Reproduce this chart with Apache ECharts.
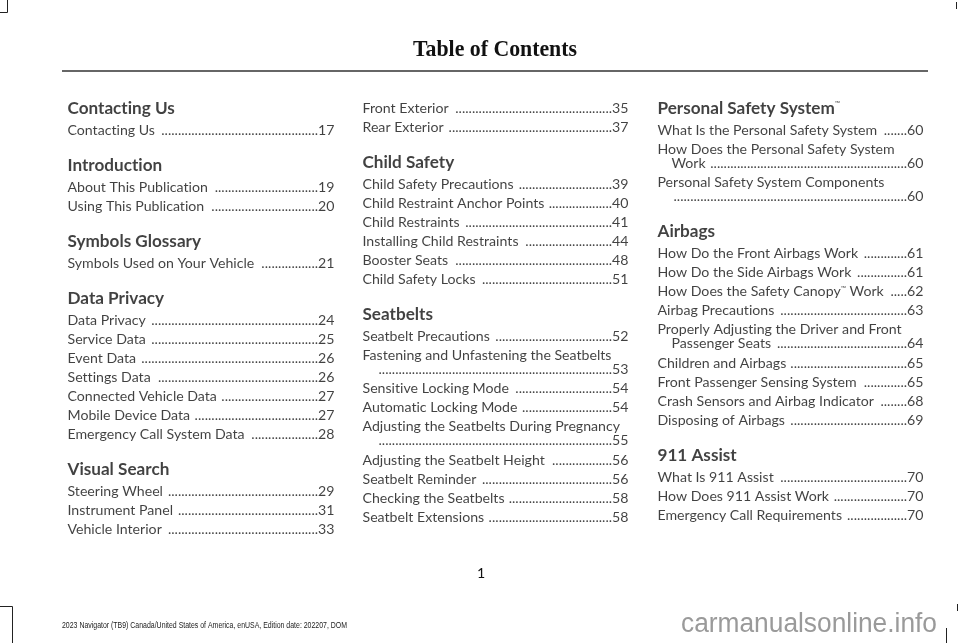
<!DOCTYPE html>
<html><head><meta charset="utf-8">
<script src="https://cdn.jsdelivr.net/npm/echarts@6/dist/echarts.min.js"></script>
<style>html,body{margin:0;padding:0;background:#fff}#c{width:960px;height:643px}</style>
</head><body><div id="c"></div>
<script>
// ---------- DATA ----------
const pageTitle = "Table of Contents";
const pageNumber = "1";
const footerText = "2023 Navigator (TB9) Canada/United States of America, enUSA, Edition date: 202207, DOM";
const watermarkText = "carmanualsonline.info";

// rows: ["h", heading] or ["e", title ("|" marks wrapped continuation), page]
const column1 = [
  ["h","Contacting Us"],
  ["e","Contacting Us","17"],
  ["h","Introduction"],
  ["e","About This Publication","19"],
  ["e","Using This Publication","20"],
  ["h","Symbols Glossary"],
  ["e","Symbols Used on Your Vehicle","21"],
  ["h","Data Privacy"],
  ["e","Data Privacy","24"],
  ["e","Service Data","25"],
  ["e","Event Data","26"],
  ["e","Settings Data","26"],
  ["e","Connected Vehicle Data","27"],
  ["e","Mobile Device Data","27"],
  ["e","Emergency Call System Data","28"],
  ["h","Visual Search"],
  ["e","Steering Wheel","29"],
  ["e","Instrument Panel","31"],
  ["e","Vehicle Interior","33"]
];
const column2 = [
  ["e","Front Exterior","35"],
  ["e","Rear Exterior","37"],
  ["h","Child Safety"],
  ["e","Child Safety Precautions","39"],
  ["e","Child Restraint Anchor Points","40"],
  ["e","Child Restraints","41"],
  ["e","Installing Child Restraints","44"],
  ["e","Booster Seats","48"],
  ["e","Child Safety Locks","51"],
  ["h","Seatbelts"],
  ["e","Seatbelt Precautions","52"],
  ["e","Fastening and Unfastening the Seatbelts|","53"],
  ["e","Sensitive Locking Mode","54"],
  ["e","Automatic Locking Mode","54"],
  ["e","Adjusting the Seatbelts During Pregnancy|","55"],
  ["e","Adjusting the Seatbelt Height","56"],
  ["e","Seatbelt Reminder","56"],
  ["e","Checking the Seatbelts","58"],
  ["e","Seatbelt Extensions","58"]
];
const column3 = [
  ["h","Personal Safety System™"],
  ["e","What Is the Personal Safety System","60"],
  ["e","How Does the Personal Safety System|Work","60"],
  ["e","Personal Safety System Components|","60"],
  ["h","Airbags"],
  ["e","How Do the Front Airbags Work","61"],
  ["e","How Do the Side Airbags Work","61"],
  ["e","How Does the Safety Canopy™ Work","62"],
  ["e","Airbag Precautions","63"],
  ["e","Properly Adjusting the Driver and Front|Passenger Seats","64"],
  ["e","Children and Airbags","65"],
  ["e","Front Passenger Sensing System","65"],
  ["e","Crash Sensors and Airbag Indicator","68"],
  ["e","Disposing of Airbags","69"],
  ["h","911 Assist"],
  ["e","What Is 911 Assist","70"],
  ["e","How Does 911 Assist Work","70"],
  ["e","Emergency Call Requirements","70"]
];

// ---------- LAYOUT ----------
const columns = [column1, column2, column3];
const colLeft = [67, 362, 657];
const colRight = [335, 629, 924];
const startY = 108;
const BODY = "Lato";
const HEAD = "Lato";
const TEXT = "#111";

const mctx = document.createElement("canvas").getContext("2d");
function tw(text, size, weight, family) {
  mctx.font = (weight || "normal") + " " + size + "px " + (family || BODY);
  return mctx.measureText(text).width;
}
function fitSize(pairs, weight, family) {
  let a = 0, b = 0;
  pairs.forEach(p => { a += p[1]; b += tw(p[0], 100, weight, family); });
  return 100 * a / b;
}
// break typographic ligatures (ti, tt, ft, fi, fl) that the printed face does not use
function noLig(s) { return s.replace(/t(?=[it])/g, "t\u200C").replace(/f(?=[ilt])/g, "f\u200C"); }

const bodySize = fitSize([["Fastening and Unfastening the Seatbelts",250],["Emergency Call System Data",178],["How Does the Personal Safety System",236]], "normal", BODY);
const headSize = fitSize([["Personal Safety System",176],["Contacting Us",109]], "bold", HEAD);
const tmSize = 7;

function measure(text, size, weight, family) {
  const parts = noLig(text).split("™");
  let w = 0;
  parts.forEach((p, i) => { w += tw(p, size, weight, family); if (i < parts.length - 1) w += tw("™", tmSize, "normal", family); });
  return w;
}
function richify(text) { return noLig(text).replace(/™/g, "{tm|™}"); }

const headItems = [], titleItems = [], dotItems = [], numItems = [];
columns.forEach((col, ci) => {
  const L = colLeft[ci], R = colRight[ci];
  let y = null, prev = null;
  col.forEach(row => {
    if (y === null) y = startY;
    else if (prev === "h") y += 22;
    else if (row[0] === "h") y += 35;
    else if (prev === "w") y += 19.5;
    else y += 19;
    if (row[0] === "h") {
      headItems.push({ value: [L, y], t: richify(row[1]) });
      prev = "h";
      return;
    }
    const parts = row[1].split("|");
    const num = row[2];
    const dotW = tw(".", bodySize, "normal");
    const numW = tw(num, bodySize, "normal");
    function addLine(text, x) {
      const textEnd = x + (text ? measure(text, bodySize, "normal") + 5 : 0);
      const n = Math.max(0, Math.floor((R - numW - textEnd) / dotW));
      if (text) titleItems.push({ value: [x, y], t: richify(text) });
      dotItems.push({ value: [R - numW, y], t: ".".repeat(n) });
      numItems.push({ value: [R, y], t: num });
    }
    if (parts.length === 1) {
      addLine(parts[0], L);
      prev = "e";
    } else {
      titleItems.push({ value: [L, y], t: richify(parts[0]) });
      y += 14;
      addLine(parts[1], L + 14);
      prev = "w";
    }
  });
});

function richFor(size, family) {
  return { tm: { fontSize: tmSize, fontFamily: family, color: TEXT, fontWeight: "normal", padding: [0, 0, Math.round(size * 0.45), 0] } };
}
function textSeries(data, pos, size, weight, family) {
  return {
    type: "scatter", data: data, symbolSize: 1, silent: true,
    itemStyle: { color: "rgba(0,0,0,0)" },
    label: {
      show: true, position: pos, distance: 0,
      formatter: p => p.data.t,
      fontFamily: family, fontSize: size, fontWeight: weight, color: TEXT,
      rich: richFor(size, family)
    }
  };
}

// title / footer / watermark sizing (horizontal scale to match condensed faces)
const titleFont = "bold 24px 'Liberation Serif'";
mctx.font = titleFont; const titleScale = 164 / mctx.measureText(pageTitle).width;
const footFont = "8.5px 'Liberation Sans'";
mctx.font = footFont; const footScale = 285 / mctx.measureText(footerText).width;
const wmFont = "27px 'Liberation Sans'";
mctx.font = wmFont; const wmScale = 256 / mctx.measureText(watermarkText).width;

const chart = echarts.init(document.getElementById("c"), null, { renderer: "canvas" });
const stroke = { stroke: "#222", lineWidth: 1 };
chart.setOption({
  animation: false,
  backgroundColor: "#fff",
  grid: { left: 0, right: 0, top: 0, bottom: 0 },
  xAxis: { type: "value", min: 0, max: 960, show: false },
  yAxis: { type: "value", min: 0, max: 643, inverse: true, show: false },
  series: [
    textSeries(headItems, "right", headSize, "bold", HEAD),
    textSeries(titleItems, "right", bodySize, "normal", BODY),
    textSeries(dotItems, "left", bodySize, "normal", BODY),
    textSeries(numItems, "left", bodySize, "normal", BODY)
  ],
  graphic: [
    { type: "text", x: 495, y: 50, scaleX: titleScale, style: { text: pageTitle, font: titleFont, fill: "#111", textAlign: "center", textVerticalAlign: "middle" } },
    { type: "line", shape: { x1: 62, y1: 71, x2: 928, y2: 71 }, style: { stroke: "#333", lineWidth: 1.6 } },
    { type: "text", x: 481, y: 573, style: { text: pageNumber, font: bodySize + "px " + BODY, fill: TEXT, textAlign: "center", textVerticalAlign: "middle" } },
    { type: "text", x: 62, y: 626, scaleX: footScale, style: { text: footerText, font: footFont, fill: "#222", textVerticalAlign: "middle" } },
    { type: "text", x: 681, y: 625, scaleX: wmScale, style: { text: watermarkText, font: wmFont, fill: "#9a9a9a", textVerticalAlign: "middle" } },
    { type: "polyline", shape: { points: [[7.5, 0], [7.5, 12.5], [0, 12.5]] }, style: Object.assign({ fill: null }, stroke) },
    { type: "line", shape: { x1: 956.5, y1: 2, x2: 956.5, y2: 9 }, style: stroke },
    { type: "polyline", shape: { points: [[0, 606.5], [12.5, 606.5], [12.5, 643]] }, style: Object.assign({ fill: null }, stroke) },
    { type: "line", shape: { x1: 946.5, y1: 628, x2: 946.5, y2: 643 }, style: stroke },
    { type: "line", shape: { x1: 957.5, y1: 604, x2: 957.5, y2: 611 }, style: stroke }
  ]
});
</script>
</body></html>
